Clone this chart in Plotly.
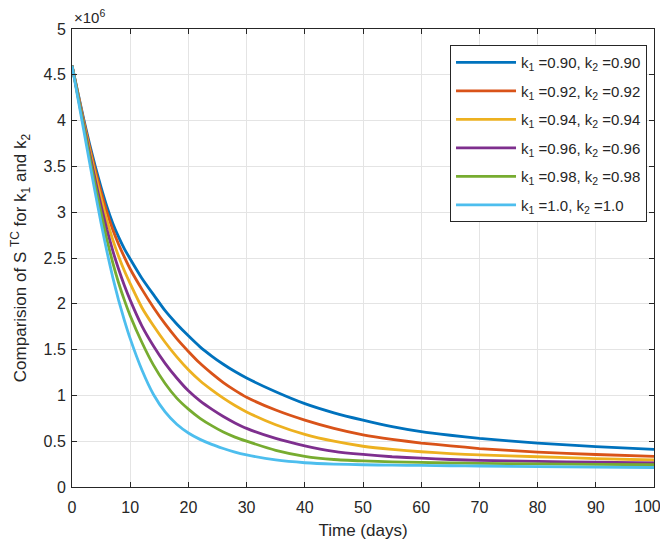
import plotly.graph_objects as go

# Time (days)
t = [0, 1, 2, 3, 4, 5, 6, 7, 8, 9, 10,
     12, 14, 16, 18, 20, 22, 24, 26, 28, 30,
     35, 40, 45, 50, 55, 60, 65, 70,
     80, 90, 100]

# S^TC values (x 10^6)
s_090 = [4.60, 4.31, 4.02, 3.75, 3.50, 3.27, 3.06, 2.88, 2.73, 2.60, 2.49,
         2.28, 2.10, 1.925, 1.78, 1.65, 1.53, 1.43, 1.34, 1.26, 1.19,
         1.04, 0.91, 0.81, 0.73, 0.66, 0.605, 0.565, 0.53,
         0.48, 0.44, 0.41]
s_092 = [4.60, 4.30, 4.00, 3.72, 3.46, 3.22, 3.00, 2.81, 2.65, 2.51, 2.38,
         2.16, 1.96, 1.78, 1.62, 1.48, 1.35, 1.24, 1.14, 1.055, 0.98,
         0.84, 0.73, 0.64, 0.57, 0.52, 0.48, 0.45, 0.42,
         0.38, 0.355, 0.335]
s_094 = [4.60, 4.29, 3.98, 3.69, 3.41, 3.15, 2.91, 2.70, 2.52, 2.36, 2.22,
         1.96, 1.76, 1.58, 1.42, 1.28, 1.16, 1.06, 0.97, 0.89, 0.82,
         0.68, 0.575, 0.50, 0.445, 0.41, 0.385, 0.365, 0.35,
         0.33, 0.31, 0.295]
s_096 = [4.60, 4.28, 3.96, 3.65, 3.35, 3.07, 2.81, 2.58, 2.38, 2.20, 2.04,
         1.76, 1.54, 1.35, 1.19, 1.05, 0.94, 0.85, 0.77, 0.70, 0.64,
         0.53, 0.45, 0.39, 0.355, 0.33, 0.315, 0.30, 0.29,
         0.28, 0.27, 0.262]
s_098 = [4.60, 4.27, 3.94, 3.61, 3.29, 2.99, 2.70, 2.45, 2.23, 2.04, 1.87,
         1.58, 1.33, 1.13, 0.97, 0.85, 0.75, 0.67, 0.60, 0.545, 0.50,
         0.40, 0.335, 0.30, 0.285, 0.275, 0.268, 0.262, 0.258,
         0.252, 0.247, 0.243]
s_100 = [4.60, 4.25, 3.90, 3.55, 3.21, 2.88, 2.57, 2.29, 2.04, 1.82, 1.62,
         1.28, 1.01, 0.82, 0.685, 0.59, 0.52, 0.465, 0.42, 0.38, 0.35,
         0.295, 0.265, 0.25, 0.243, 0.238, 0.235, 0.232, 0.229,
         0.223, 0.218, 0.213]

x_ticks = [0, 10, 20, 30, 40, 50, 60, 70, 80, 90, 100]
x_tick_text = ["0", "10", "20", "30", "40", "50", "60", "70", "80", "90", ""]
last_x_tick = 100
last_x_label = "100"

labels = [
    "k<sub>1</sub> =0.90, k<sub>2</sub> =0.90",
    "k<sub>1</sub> =0.92, k<sub>2</sub> =0.92",
    "k<sub>1</sub> =0.94, k<sub>2</sub> =0.94",
    "k<sub>1</sub> =0.96, k<sub>2</sub> =0.96",
    "k<sub>1</sub> =0.98, k<sub>2</sub> =0.98",
    "k<sub>1</sub> =1.0, k<sub>2</sub> =1.0",
]
series = [s_090, s_092, s_094, s_096, s_098, s_100]
colors = ["#0072BD", "#D95319", "#EDB120", "#7E2F8E", "#77AC30", "#4DBEEE"]

FONT = "Liberation Sans, Arial, sans-serif"
INK = "#262626"

fig = go.Figure()
for i, (ys, name, c) in enumerate(zip(series, labels, colors)):
    fig.add_trace(go.Scatter(x=t, y=ys, mode="lines", name=name, legendgroup=f"g{i}",
                             line=dict(color=c, width=2.8, shape="spline", smoothing=0.5)))

axis_common = dict(
    showline=True, linecolor=INK, linewidth=1, mirror="ticks",
    ticks="inside", ticklen=5, tickcolor=INK,
    showgrid=True, gridcolor="#e4e4e4", gridwidth=1, zeroline=False,
    automargin=False,
    tickfont=dict(family=FONT, size=16, color=INK),
)

fig.update_xaxes(range=[0, 100], tickvals=x_ticks, ticktext=x_tick_text, ticklabelstandoff=6, **axis_common,
                 title=dict(text="Time (days)", font=dict(family=FONT, size=17, color=INK), standoff=8))
fig.update_yaxes(range=[0, 5], dtick=0.5, ticklabelstandoff=2, **axis_common,
                 title=dict(text="Comparision of S <sup>TC</sup> for k<sub>1</sub> and k<sub>2</sub>",
                            font=dict(family=FONT, size=17, color=INK), standoff=14))

# last x tick label drawn as an annotation so it is not dropped at the figure edge
fig.add_annotation(x=last_x_tick, y=0, xref="x", yref="paper", xanchor="center", yanchor="top",
                   text=last_x_label, showarrow=False, xshift=-7, yshift=-9,
                   font=dict(family=FONT, size=16, color=INK))

fig.add_annotation(x=0, y=1, xref="paper", yref="paper", xanchor="left", yanchor="bottom",
                   text="×10<sup>6</sup>", showarrow=False, yshift=1,
                   font=dict(family=FONT, size=15, color=INK))

# page body has an 8px margin, so the figure is placed at (8, 8)
fig.update_layout(
    width=660, height=532,
    margin=dict(l=64, r=14, t=21, b=53),
    paper_bgcolor="white", plot_bgcolor="white",
    legend=dict(x=0.988, y=0.965, xanchor="right", yanchor="top",
                bgcolor="white", bordercolor=INK, borderwidth=1,
                font=dict(family=FONT, size=15, color=INK),
                tracegroupgap=6, itemwidth=60),
    showlegend=True,
)

fig.write_html("out.html")
